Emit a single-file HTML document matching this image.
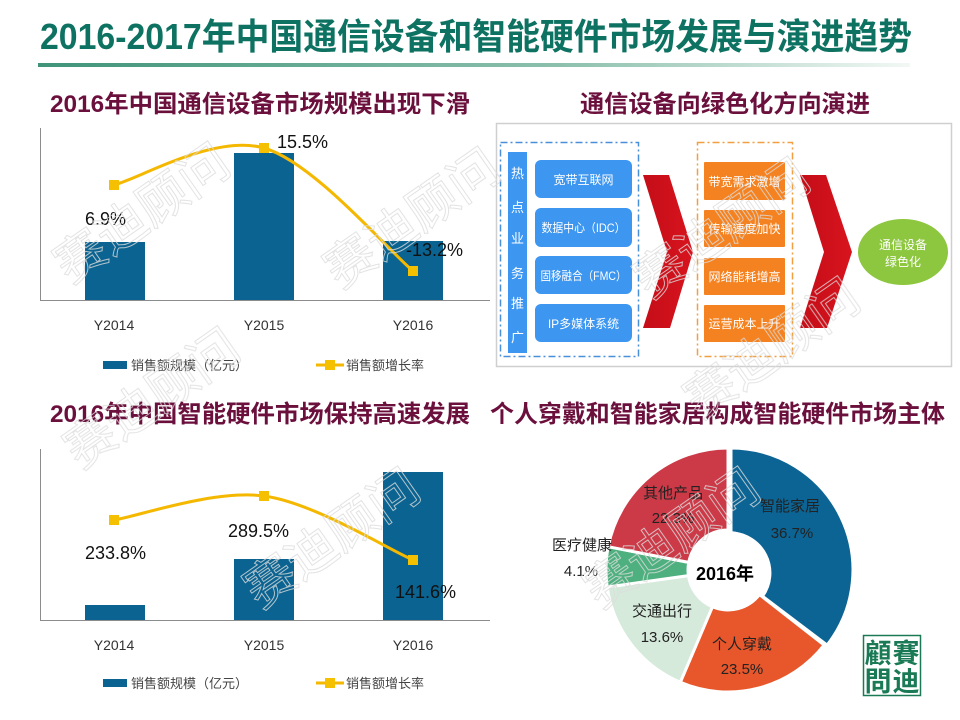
<!DOCTYPE html>
<html><head><meta charset="utf-8"><style>
html,body{margin:0;padding:0;background:#fff;}
svg{display:block;}
text{font-family:"Liberation Sans","Noto Sans CJK SC",sans-serif;}
</style></head><body>
<svg width="960" height="720" viewBox="0 0 960 720" xmlns="http://www.w3.org/2000/svg">
<defs>
<linearGradient id="ul" x1="0" x2="1" y1="0" y2="0">
<stop offset="0" stop-color="#3f9479"/><stop offset="0.6" stop-color="#8cc0ad"/><stop offset="1" stop-color="#f2f8f5"/>
</linearGradient>
<linearGradient id="chev" x1="0" x2="1" y1="0" y2="0">
<stop offset="0" stop-color="#c40d18"/><stop offset="1" stop-color="#d8141e"/>
</linearGradient>
</defs>
<rect width="960" height="720" fill="#fff"/>

<!-- Title -->
<text x="40" y="49" font-size="36" font-weight="bold" fill="#0e7262" textLength="872" lengthAdjust="spacingAndGlyphs">2016-2017年中国通信设备和智能硬件市场发展与演进趋势</text>
<rect x="38" y="63" width="872" height="4" fill="url(#ul)"/>

<!-- Subtitles -->
<g font-size="24" font-weight="bold" fill="#6b0f3c">
<text x="50" y="112" textLength="420" lengthAdjust="spacingAndGlyphs">2016年中国通信设备市场规模出现下滑</text>
<text x="580" y="112" textLength="290" lengthAdjust="spacingAndGlyphs">通信设备向绿色化方向演进</text>
<text x="50" y="422" textLength="420" lengthAdjust="spacingAndGlyphs">2016年中国智能硬件市场保持高速发展</text>
<text x="490" y="422" textLength="455" lengthAdjust="spacingAndGlyphs">个人穿戴和智能家居构成智能硬件市场主体</text>
</g>

<!-- Chart 1 -->
<g>
<line x1="40.5" y1="128" x2="40.5" y2="300" stroke="#8c8c8c" stroke-width="1"/>
<line x1="40" y1="300.5" x2="490" y2="300.5" stroke="#8c8c8c" stroke-width="1"/>
<rect x="85" y="242" width="60" height="58" fill="#0a6390"/>
<rect x="234" y="153" width="60" height="147" fill="#0a6390"/>
<rect x="383" y="241" width="60" height="59" fill="#0a6390"/>
<path d="M114,185 C139,178.8 214.2,133.7 264,148 C313.8,162.3 388.2,250.5 413,271" fill="none" stroke="#f5b800" stroke-width="3"/>
<rect x="109" y="180" width="10" height="10" fill="#f5c000"/>
<rect x="259" y="143" width="10" height="10" fill="#f5c000"/>
<rect x="408" y="266" width="10" height="10" fill="#f5c000"/>
<g font-size="18" fill="#111">
<text x="85" y="225">6.9%</text>
<text x="277" y="148">15.5%</text>
<text x="406" y="256">-13.2%</text>
</g>
<g font-size="14" fill="#333" text-anchor="middle">
<text x="114" y="330">Y2014</text>
<text x="264" y="330">Y2015</text>
<text x="413" y="330">Y2016</text>
</g>
<rect x="103" y="361" width="24" height="8" fill="#0a6390"/>
<text x="131" y="370" font-size="13" fill="#444">销售额规模（亿元）</text>
<line x1="316" y1="365" x2="344" y2="365" stroke="#f5b800" stroke-width="3"/>
<rect x="325" y="360" width="10" height="10" fill="#f5c000"/>
<text x="346" y="370" font-size="13" fill="#444">销售额增长率</text>
</g>

<!-- Chart 2 -->
<g>
<line x1="40.5" y1="449" x2="40.5" y2="620" stroke="#8c8c8c" stroke-width="1"/>
<line x1="40" y1="620.5" x2="490" y2="620.5" stroke="#8c8c8c" stroke-width="1"/>
<rect x="85" y="605" width="60" height="15" fill="#0a6390"/>
<rect x="234" y="559" width="60" height="61" fill="#0a6390"/>
<rect x="383" y="472" width="60" height="148" fill="#0a6390"/>
<path d="M114,520 C139,516 214.2,489.3 264,496 C313.8,502.7 388.2,549.3 413,560" fill="none" stroke="#f5b800" stroke-width="3"/>
<rect x="109" y="515" width="10" height="10" fill="#f5c000"/>
<rect x="259" y="491" width="10" height="10" fill="#f5c000"/>
<rect x="408" y="555" width="10" height="10" fill="#f5c000"/>
<g font-size="18" fill="#111">
<text x="85" y="559">233.8%</text>
<text x="228" y="537">289.5%</text>
<text x="395" y="598">141.6%</text>
</g>
<g font-size="14" fill="#333" text-anchor="middle">
<text x="114" y="650">Y2014</text>
<text x="264" y="650">Y2015</text>
<text x="413" y="650">Y2016</text>
</g>
<rect x="103" y="679" width="24" height="8" fill="#0a6390"/>
<text x="131" y="688" font-size="13" fill="#444">销售额规模（亿元）</text>
<line x1="316" y1="683" x2="344" y2="683" stroke="#f5b800" stroke-width="3"/>
<rect x="325" y="678" width="10" height="10" fill="#f5c000"/>
<text x="346" y="688" font-size="13" fill="#444">销售额增长率</text>
</g>

<!-- Diagram -->
<g>
<rect x="496.5" y="123.5" width="455" height="243" fill="#fff" stroke="#cfcfcf" stroke-width="1.5"/>
<rect x="500.5" y="142.5" width="138" height="214" fill="none" stroke="#4a90d9" stroke-width="1.5" stroke-dasharray="7,3,2,3"/>
<rect x="508" y="152" width="19" height="201" fill="#3d96f0"/>
<g font-size="13" fill="#fff" text-anchor="middle">
<text x="517.5" y="178">热</text>
<text x="517.5" y="212">点</text>
<text x="517.5" y="243">业</text>
<text x="517.5" y="278">务</text>
<text x="517.5" y="308">推</text>
<text x="517.5" y="342">广</text>
</g>
<g fill="#3d96f0">
<rect x="535" y="160" width="97" height="38" rx="6"/>
<rect x="535" y="208" width="97" height="39" rx="6"/>
<rect x="535" y="256" width="97" height="38" rx="6"/>
<rect x="535" y="304" width="97" height="38" rx="6"/>
</g>
<g font-size="12" fill="#fff" text-anchor="middle">
<text x="583.5" y="184">宽带互联网</text>
<text x="583.5" y="232" textLength="84" lengthAdjust="spacingAndGlyphs">数据中心（IDC）</text>
<text x="583.5" y="280" textLength="86" lengthAdjust="spacingAndGlyphs">固移融合（FMC）</text>
<text x="583.5" y="328">IP多媒体系统</text>
</g>
<polygon points="643,175 669,175 693,252 670,328 643,328 667,252" fill="url(#chev)"/>
<rect x="697.5" y="142.5" width="95" height="214" fill="none" stroke="#f0a040" stroke-width="1.5" stroke-dasharray="7,3,2,3"/>
<g fill="#f58220">
<rect x="704" y="162" width="81" height="38" rx="1"/>
<rect x="704" y="210" width="81" height="37" rx="1"/>
<rect x="704" y="258" width="81" height="37" rx="1"/>
<rect x="704" y="305" width="81" height="37" rx="1"/>
</g>
<g font-size="12" fill="#fff" text-anchor="middle">
<text x="744.5" y="186">带宽需求激增</text>
<text x="744.5" y="233">传输速度加快</text>
<text x="744.5" y="281">网络能耗增高</text>
<text x="744.5" y="328">运营成本上升</text>
</g>
<polygon points="800,175 826,175 852,252 827,328 800,328 824,252" fill="url(#chev)"/>
<ellipse cx="903" cy="252" rx="45" ry="33" fill="#8dc63f"/>
<g font-size="12" fill="#fff" text-anchor="middle">
<text x="903" y="249">通信设备</text>
<text x="903" y="266">绿色化</text>
</g>
</g>

<!-- Donut -->
<g stroke="#fff" stroke-width="3" stroke-linejoin="round">
<!-- center 728,570 r=122 inner 40; angles from top clockwise: 0,128,203,262,281,360 -->
<path d="M731,448 A122,122 0 0,1 827.1,645.1 L762.5,596.2 A40,40 0 0,0 731,533 Z" fill="#0b6494"/>
<path d="M824.1,645.1 A122,122 0 0,1 680.3,682.3 L712.4,606.8 A40,40 0 0,0 759.5,594.6 Z" fill="#e8572b"/>
<path d="M680.3,682.3 A122,122 0 0,1 607.2,587.0 L688.4,575.6 A40,40 0 0,0 712.4,606.8 Z" fill="#d5eadb"/>
<path d="M607.2,587.0 A122,122 0 0,1 608.2,546.7 L688.7,562.4 A40,40 0 0,0 688.4,575.6 Z" fill="#4db07e"/>
<path d="M608.2,546.7 A122,122 0 0,1 728,448 L728,530 A40,40 0 0,0 688.7,562.4 Z" fill="#cc3a48"/>
</g>
<circle cx="728" cy="570" r="39" fill="#fff"/>
<g font-size="15" fill="#222" text-anchor="middle">
<text x="673" y="498">其他产品</text>
<text x="673" y="523">22.3%</text>
<text x="790" y="511">智能家居</text>
<text x="792" y="538">36.7%</text>
<text x="582" y="550">医疗健康</text>
<text x="581" y="576">4.1%</text>
<text x="662" y="616">交通出行</text>
<text x="662" y="642">13.6%</text>
<text x="742" y="649">个人穿戴</text>
<text x="742" y="674">23.5%</text>
</g>
<text x="725" y="580" font-size="18" font-weight="bold" fill="#000" text-anchor="middle">2016年</text>

<!-- Logo stamp -->
<g>
<rect x="863.5" y="635.5" width="57" height="60" fill="#fff" stroke="#1a7a55" stroke-width="1.5"/>
<g font-family="'Noto Serif CJK SC','Noto Sans CJK TC',serif" font-size="27" font-weight="bold" fill="#1a7a55" text-anchor="middle">
<text x="906" y="663" font-family="'Noto Serif CJK SC',serif">賽</text>
<text x="906" y="691" font-family="'Noto Serif CJK SC',serif">迪</text>
<text x="878" y="663" font-family="'Noto Serif CJK SC',serif">顧</text>
<text x="878" y="691" font-family="'Noto Serif CJK SC',serif">問</text>
</g>
</g>

<!-- Watermarks -->
<g font-size="50" fill="none" stroke="#dcdcdc" stroke-width="1" opacity="0.8">
<text transform="translate(70,285) rotate(-35)">赛迪顾问</text>
<text transform="translate(340,290) rotate(-35)">赛迪顾问</text>
<text transform="translate(80,470) rotate(-35)">赛迪顾问</text>
<text transform="translate(260,610) rotate(-35)">赛迪顾问</text>
<text transform="translate(650,300) rotate(-35)">赛迪顾问</text>
<text transform="translate(600,610) rotate(-35)">赛迪顾问</text>
<text transform="translate(700,420) rotate(-35)">赛迪顾问</text>
</g>
</svg>
</body></html>
